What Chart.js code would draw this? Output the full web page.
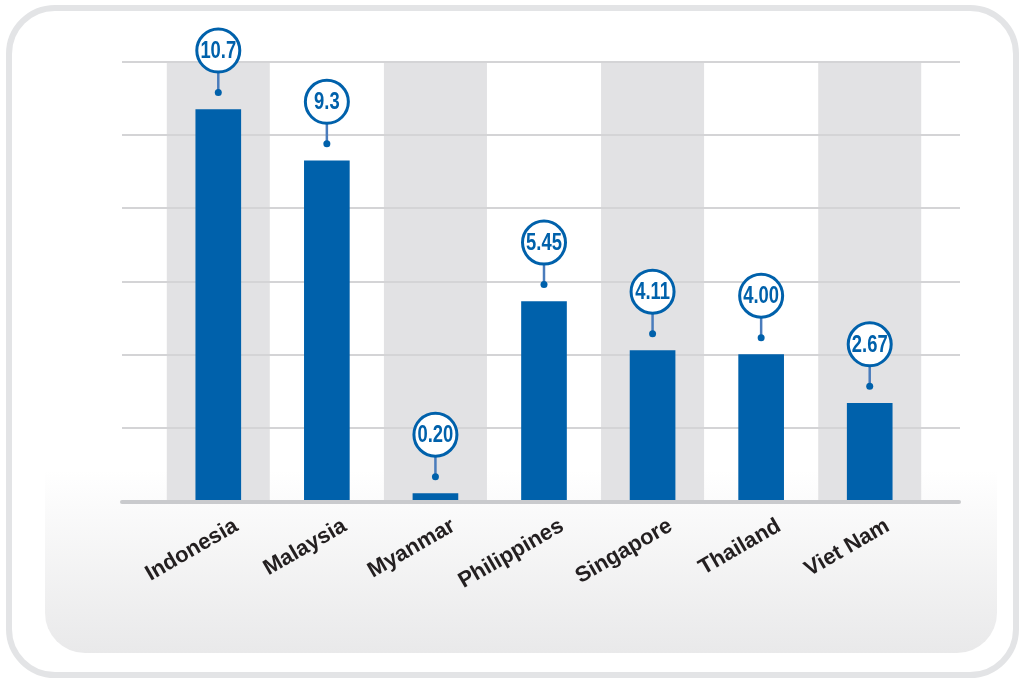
<!DOCTYPE html>
<html>
<head>
<meta charset="utf-8">
<script src="https://cdn.jsdelivr.net/npm/chart.js@4/dist/chart.umd.min.js"></script>
<style>
  html, body { margin: 0; padding: 0; background: #fff; }
  canvas { display: block; }
</style>
</head>
<body>
<canvas id="chart" width="1022" height="678"></canvas>
<script>
// Data
const countries = ['Indonesia', 'Malaysia', 'Myanmar', 'Philippines', 'Singapore', 'Thailand', 'Viet Nam'];
const values = [10.7, 9.3, 0.20, 5.45, 4.11, 4.00, 2.67];
const valueLabels = ['10.7', '9.3', '0.20', '5.45', '4.11', '4.00', '2.67'];
const yTicks = [0, 2, 4, 6, 8, 10, 12];
const shaded = [0, 2, 4, 6];   // categories with a grey column behind

const BLUE = '#0061ab';

// frame, grey columns, long gridlines and the value bubbles
const decor = {
  id: 'decor',
  beforeDraw(chart) {
    const ctx = chart.ctx;
    ctx.save();
    ctx.fillStyle = '#ffffff';
    ctx.fillRect(0, 0, chart.width, chart.height);

    // inner panel fading to grey at the bottom
    const g = ctx.createLinearGradient(0, 470, 0, 653);
    g.addColorStop(0, '#ffffff');
    g.addColorStop(1, '#e9e9ea');
    ctx.fillStyle = g;
    ctx.beginPath();
    ctx.roundRect(45, 20, 952, 633, [0, 0, 40, 40]);
    ctx.fill();

    // outer rounded frame
    ctx.strokeStyle = '#e3e4e6';
    ctx.lineWidth = 6;
    ctx.beginPath();
    ctx.roundRect(9, 8, 1007, 667, 46);
    ctx.stroke();
    ctx.restore();
  },
  beforeDatasetsDraw(chart) {
    const { ctx, scales: { x, y } } = chart;
    const top = y.getPixelForValue(yTicks[yTicks.length - 1]);
    const base = y.getPixelForValue(0);
    ctx.save();
    ctx.fillStyle = '#e2e2e4';
    shaded.forEach(i => {
      const cx = x.getPixelForValue(i);
      ctx.fillRect(cx - 51.5, top, 103, base - top);
    });

    ctx.strokeStyle = '#d4d4d6';
    ctx.lineWidth = 2;
    yTicks.slice(1).forEach(v => {
      const py = Math.round(y.getPixelForValue(v));
      ctx.beginPath();
      ctx.moveTo(122, py);
      ctx.lineTo(960, py);
      ctx.stroke();
    });
    ctx.restore();
  },
  afterDatasetsDraw(chart) {
    const { ctx, scales: { y } } = chart;
    const base = y.getPixelForValue(0);
    ctx.save();

    // baseline
    ctx.strokeStyle = '#c9cacd';
    ctx.lineWidth = 4;
    ctx.lineCap = 'round';
    ctx.beginPath();
    ctx.moveTo(122, base + 1);
    ctx.lineTo(959, base + 1);
    ctx.stroke();

    const meta = chart.getDatasetMeta(0);
    meta.data.forEach((bar, i) => {
      const cx = bar.x;
      const top = bar.y;
      const cy = top - 59;
      const r = 21.5;
      const dotY = top - 17;

      ctx.strokeStyle = '#4a7cbc';
      ctx.lineWidth = 2.5;
      ctx.lineCap = 'butt';
      ctx.beginPath();
      ctx.moveTo(cx, cy + r);
      ctx.lineTo(cx, dotY);
      ctx.stroke();

      ctx.fillStyle = BLUE;
      ctx.beginPath();
      ctx.arc(cx, dotY, 3.5, 0, Math.PI * 2);
      ctx.fill();

      ctx.fillStyle = '#ffffff';
      ctx.strokeStyle = BLUE;
      ctx.lineWidth = 3;
      ctx.beginPath();
      ctx.arc(cx, cy, r, 0, Math.PI * 2);
      ctx.fill();
      ctx.stroke();

      // narrow bold digits: squeeze a regular bold face
      ctx.save();
      ctx.translate(cx, cy + 1);
      ctx.scale(0.8, 1);
      ctx.fillStyle = BLUE;
      ctx.font = 'bold 23px "Liberation Sans", Arial, sans-serif';
      ctx.textAlign = 'center';
      ctx.textBaseline = 'middle';
      ctx.fillText(valueLabels[i], 0, 0);
      ctx.restore();
    });
    ctx.restore();
  }
};

new Chart(document.getElementById('chart'), {
  type: 'bar',
  data: {
    labels: countries,
    datasets: [{
      data: values,
      backgroundColor: BLUE,
      barThickness: 45
    }]
  },
  options: {
    responsive: false,
    animation: false,
    layout: { padding: { top: 62, left: 164, right: 98, bottom: 0 } },
    plugins: { legend: { display: false }, tooltip: { enabled: false } },
    scales: {
      x: {
        grid: { display: false, drawTicks: false },
        border: { display: false },
        ticks: {
          autoSkip: false,
          minRotation: 30,
          maxRotation: 30,
          labelOffset: 18,
          padding: 12,
          color: '#231f20',
          font: { family: '"Liberation Sans", Arial, sans-serif', size: 22, weight: 'bold' }
        },
        afterFit(scale) { scale.height = 177; }
      },
      y: {
        display: false,
        min: 0,
        max: 12,
        ticks: { stepSize: 2 }
      }
    }
  },
  plugins: [decor]
});
</script>
</body>
</html>
